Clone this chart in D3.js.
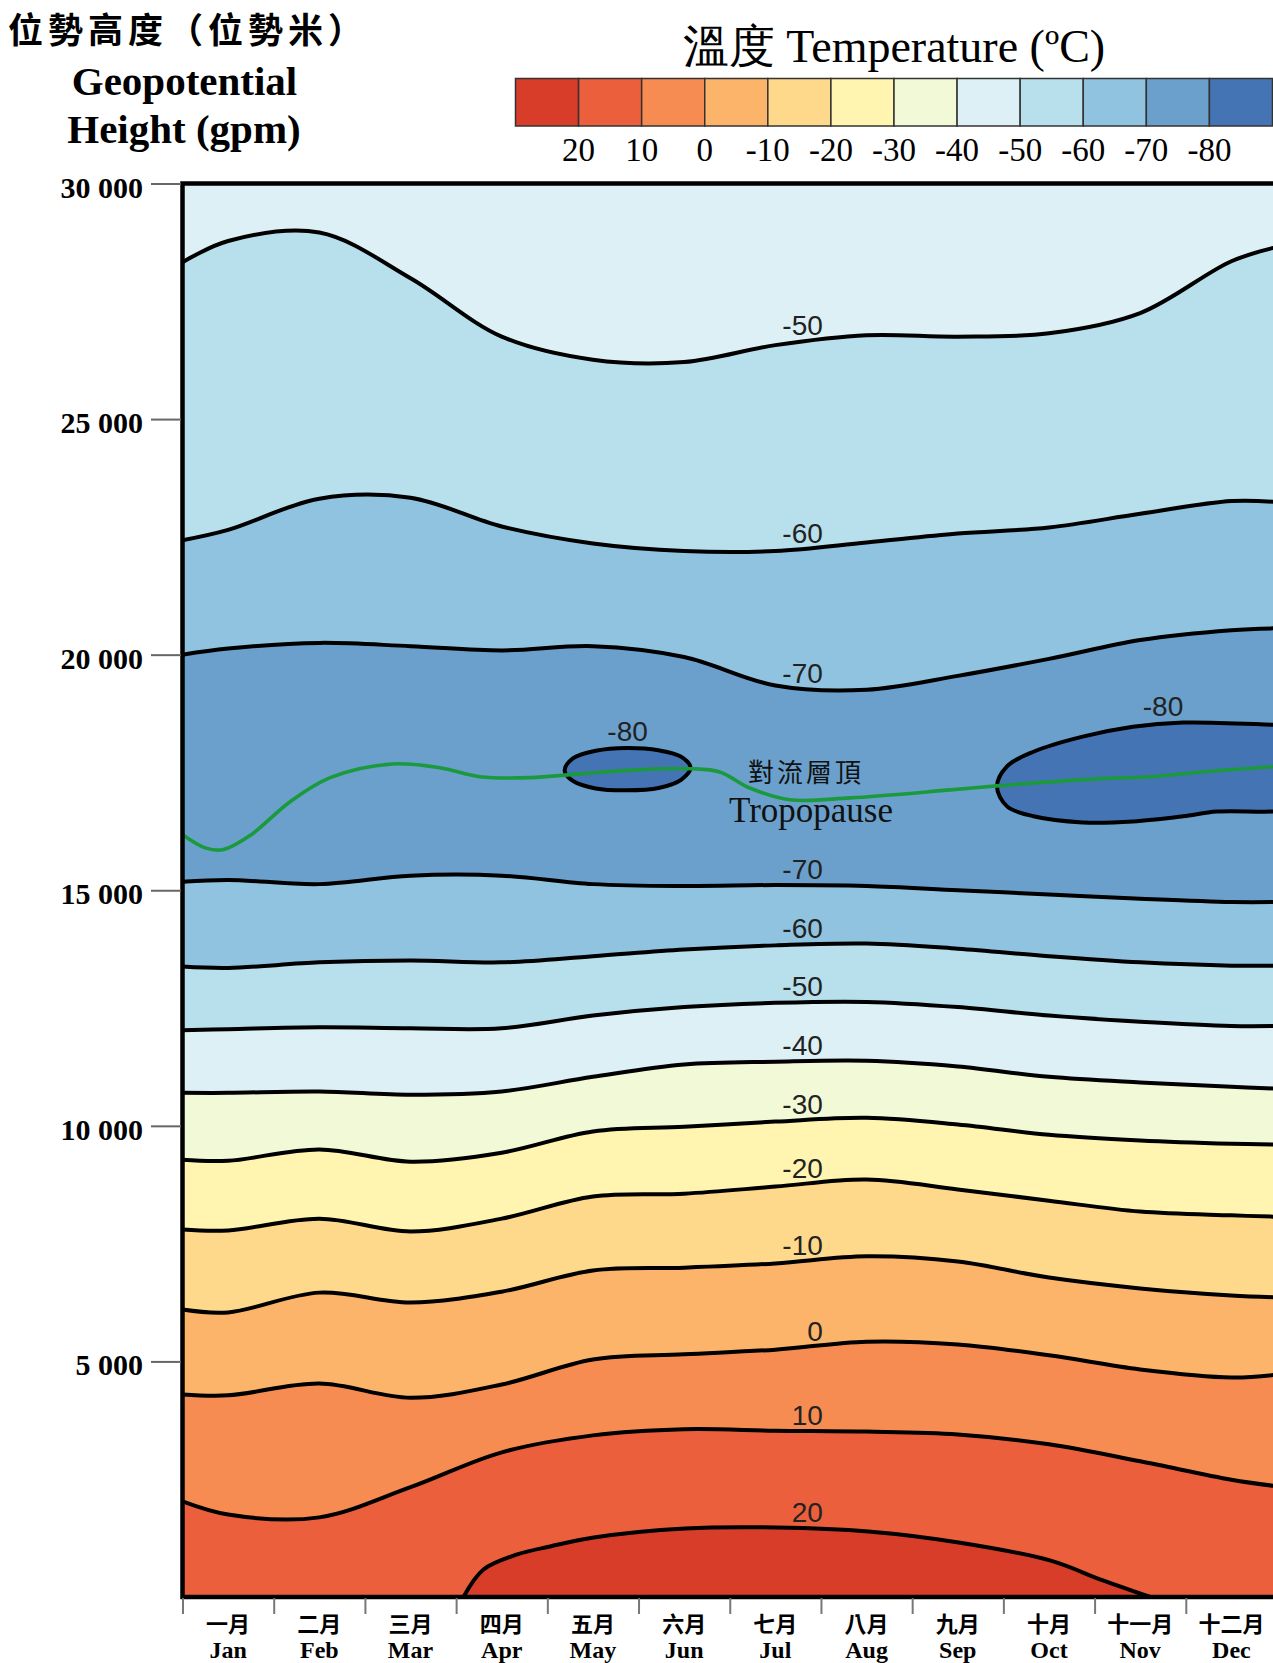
<!DOCTYPE html>
<html><head><meta charset="utf-8">
<script src="https://cdn.jsdelivr.net/npm/d3@7"></script>
<style>
html,body{margin:0;padding:0;background:#fff;}
svg{display:block;}
</style></head><body>
<svg id="chart" width="1273" height="1663"></svg>
<script>
// ---------------- DATA ----------------
const monthsEn = ["Jan","Feb","Mar","Apr","May","Jun","Jul","Aug","Sep","Oct","Nov","Dec"];
const monthsZh = ["一月","二月","三月","四月","五月","六月","七月","八月","九月","十月","十一月","十二月"];
const yTicks = [5000,10000,15000,20000,25000,30000];
const legendValues = [20,10,0,-10,-20,-30,-40,-50,-60,-70,-80];
const legendColors = ["#d73d29","#ec5f3c","#f78c52","#fcb46a","#fed98c","#fff5b0","#f2f9d6","#ddf0f6","#b8dfec","#90c3df","#6aa0cb","#4574b4"];

// sample positions in months (0 = start of Jan, 12 = end of Dec)
const sampleM = [0,0.5,1.5,2.5,3.5,4.5,5.5,6.5,7.5,8.5,9.5,10.5,11.5,12];
// isotherm heights (gpm) at sampleM
const isoM50Upper = [28330,28780,28960,27990,26750,26260,26210,26570,26780,26750,26820,27250,28350,28650];
const isoM60Upper = [22430,22650,23310,23330,22720,22360,22200,22200,22380,22570,22700,22990,23260,23240];
const isoM70Upper = [20000,20130,20250,20180,20090,20180,19950,19345,19255,19550,19910,20310,20520,20560];
const isoM70Lower = [15180,15220,15130,15310,15310,15130,15090,15110,15090,15000,14910,14820,14750,14750];
const isoM60Lower = [13380,13350,13470,13510,13470,13600,13740,13830,13870,13760,13600,13470,13400,13400];
const isoM50Lower = [12030,12050,12090,12070,12070,12340,12520,12610,12630,12520,12340,12210,12120,12120];
const isoM40 = [10700,10700,10730,10660,10730,11040,11300,11360,11380,11260,11040,10920,10830,10790];
const isoM30 = [9280,9260,9500,9240,9430,9880,9980,10090,10170,10030,9810,9690,9620,9600];
const isoM20 = [7800,7780,8030,7760,8030,8500,8560,8710,8860,8650,8410,8180,8100,8070];
const isoM10 = [6100,6040,6460,6250,6480,6930,6990,7080,7230,7120,6780,6550,6400,6360];
const iso0 = [4300,4280,4530,4230,4510,5040,5150,5250,5420,5360,5130,4830,4660,4720];
const iso10 = [2030,1750,1690,2330,3070,3430,3560,3530,3510,3450,3240,2880,2490,2350];
// 20 degC isotherm (closed against the ground)
const iso20M = [3.08,3.30,3.67,4.03,4.51,5.51,6.51,7.52,8.51,9.51,10.09,10.61];
const iso20H = [0,585,904,1073,1264,1455,1476,1392,1158,776,352,0];
// -80 degC closed isotherms
const blob1M = [5.57,5.47,5.22,4.87,4.53,4.28,4.19,4.28,4.53,4.87,5.22,5.47];
const blob1H = [17600,17830,17970,18020,17960,17800,17540,17320,17160,17120,17170,17350];
const blob2M = [8.93,9.04,9.33,9.87,10.42,10.97,11.96,12.6,12.6,11.96,11.34,10.97,10.42,9.87,9.33,9.04];
const blob2H = [17200,17630,17940,18260,18470,18560,18510,18450,16750,16670,16670,16570,16460,16440,16570,16780];
// tropopause
const tropM = [0,0.25,0.44,0.74,1.18,1.62,2.30,2.82,3.26,3.81,4.36,5.02,5.57,5.89,6.22,6.66,7.32,8.42,8.96,10.06,10.61,11.16,12];
const tropH = [16180,15900,15860,16160,16880,17390,17680,17600,17410,17390,17470,17560,17580,17510,17170,16920,16960,17130,17220,17370,17410,17510,17630];

// ---------------- CHART ----------------
const svg = d3.select("#chart");
const serif = "'Liberation Serif','Times New Roman',serif";
const cjk = "'Noto Sans CJK TC','Noto Sans CJK SC',sans-serif";
const sans = "'Liberation Sans',Arial,sans-serif";

const x = d3.scaleLinear().domain([0,12]).range([182.5,1277]);
const y = d3.scaleLinear().domain([0,30000]).range([1597,183.5]);

const defs = svg.append("defs");
defs.append("clipPath").attr("id","plotclip").append("rect")
  .attr("x",x(0)).attr("y",y(30000)).attr("width",x(12)-x(0)).attr("height",y(0)-y(30000));

const plot = svg.append("g").attr("clip-path","url(#plotclip)");
const curve = d3.curveCatmullRom.alpha(0.5);

const pts = (ms,hs) => ms.map((m,i)=>[m,hs[i]]);
const lineGen = d3.line().x(d=>x(d[0])).y(d=>y(d[1])).curve(curve);
const areaBelow = d3.area().x(d=>x(d[0])).y0(y(0)).y1(d=>y(d[1])).curve(curve);
const closedGen = d3.line().x(d=>x(d[0])).y(d=>y(d[1])).curve(d3.curveCatmullRomClosed.alpha(0.5));

// background band (-50..-40)
plot.append("rect").attr("x",x(0)).attr("y",y(30000)).attr("width",x(12)-x(0)).attr("height",y(0)-y(30000))
  .attr("fill",legendColors[7]);

const isotherms = [
  {h:isoM50Upper, label:"-50", below:8},
  {h:isoM60Upper, label:"-60", below:9},
  {h:isoM70Upper, label:"-70", below:10},
  {h:isoM70Lower, label:"-70", below:9},
  {h:isoM60Lower, label:"-60", below:8},
  {h:isoM50Lower, label:"-50", below:7},
  {h:isoM40, label:"-40", below:6},
  {h:isoM30, label:"-30", below:5},
  {h:isoM20, label:"-20", below:4},
  {h:isoM10, label:"-10", below:3},
  {h:iso0, label:"0", below:2},
  {h:iso10, label:"10", below:1}
];
isotherms.forEach(c=>{
  plot.append("path").attr("d",areaBelow(pts(sampleM,c.h))).attr("fill",legendColors[c.below]);
});
plot.append("path").attr("d",areaBelow(pts(iso20M,iso20H))).attr("fill",legendColors[0]);

// -80 cells
[[blob1M,blob1H],[blob2M,blob2H]].forEach(b=>{
  plot.append("path").attr("d",closedGen(pts(b[0],b[1]))).attr("fill",legendColors[11]);
});

// contour strokes
const strokeW = 4;
const linePaths = [];
isotherms.forEach(c=>{
  const p = plot.append("path").attr("d",lineGen(pts(sampleM,c.h))).attr("fill","none")
    .attr("stroke","#000").attr("stroke-width",strokeW).attr("stroke-linejoin","round");
  linePaths.push({node:p.node(), label:c.label});
});
const p20 = plot.append("path").attr("d",lineGen(pts(iso20M,iso20H))).attr("fill","none")
  .attr("stroke","#000").attr("stroke-width",strokeW);
linePaths.push({node:p20.node(), label:"20"});
[[blob1M,blob1H],[blob2M,blob2H]].forEach(b=>{
  plot.append("path").attr("d",closedGen(pts(b[0],b[1]))).attr("fill","none")
    .attr("stroke","#000").attr("stroke-width",strokeW);
});

// tropopause
plot.append("path").attr("d",lineGen(pts(tropM,tropH))).attr("fill","none")
  .attr("stroke","#1a9a3c").attr("stroke-width",3.6);

// contour labels
function yAtX(node, xt){
  let lo=0, hi=node.getTotalLength();
  for(let i=0;i<40;i++){const mid=(lo+hi)/2; const p=node.getPointAtLength(mid); if(p.x<xt) lo=mid; else hi=mid;}
  return node.getPointAtLength((lo+hi)/2).y;
}
const labelEnd = x(7.02);
linePaths.forEach(lp=>{
  const yy = yAtX(lp.node, labelEnd-20);
  svg.append("text").attr("x",labelEnd).attr("y",yy-6).attr("text-anchor","end")
    .attr("font-family",sans).attr("font-size",28).attr("fill","#222").text(lp.label);
});
[[blob1M,blob1H],[blob2M,blob2H]].forEach((b,i)=>{
  const cx = i===0 ? x(d3.mean([d3.min(b[0]),d3.max(b[0])])) : x(10.75);
  svg.append("text").attr("x",cx).attr("y",y(d3.max(b[1]))-7).attr("text-anchor","middle")
    .attr("font-family",sans).attr("font-size",28).attr("fill","#222").text("-80");
});

// tropopause labels
svg.append("text").attr("x",806).attr("y",782).attr("text-anchor","middle")
  .attr("font-family",cjk).attr("font-size",26).attr("letter-spacing",3).attr("fill","#111").text("對流層頂");
svg.append("text").attr("x",811).attr("y",822).attr("text-anchor","middle")
  .attr("font-family",serif).attr("font-size",35).attr("fill","#111").text("Tropopause");

// frame
svg.append("rect").attr("x",x(0)).attr("y",y(30000)).attr("width",x(12)-x(0)).attr("height",y(0)-y(30000))
  .attr("fill","none").attr("stroke","#000").attr("stroke-width",4.5);

// y axis
const yAxis = d3.axisLeft(y).tickValues(yTicks).tickSize(30).tickPadding(8)
  .tickFormat(v=>d3.format(",")(v).replace(/,/g," "));
const ya = svg.append("g").attr("transform",`translate(${x(0)-1.5},0)`).call(yAxis);
ya.select(".domain").remove();
ya.selectAll(".tick line").attr("stroke","#666").attr("stroke-width",2);
ya.selectAll(".tick text").attr("font-family",serif).attr("font-weight","bold").attr("font-size",30)
  .attr("fill","#000").attr("dy","0.45em");

// x axis ticks
const xAxis = d3.axisBottom(x).tickValues(d3.range(0,13)).tickSize(16).tickFormat("");
const xa = svg.append("g").attr("transform",`translate(0,${y(0)+1})`).call(xAxis);
xa.select(".domain").remove();
xa.selectAll(".tick line").attr("stroke","#777").attr("stroke-width",2);
// month labels
const mg = svg.append("g");
monthsZh.forEach((t,i)=>{
  mg.append("text").attr("x",x(i+0.5)).attr("y",1632).attr("text-anchor","middle")
    .attr("font-family",cjk).attr("font-weight","bold").attr("font-size",22).attr("fill","#000").text(t);
  mg.append("text").attr("x",x(i+0.5)).attr("y",1658).attr("text-anchor","middle")
    .attr("font-family",serif).attr("font-weight","bold").attr("font-size",24).attr("fill","#000").text(monthsEn[i]);
});

// y title
svg.append("text").attr("x",188).attr("y",43).attr("text-anchor","middle")
  .attr("font-family",cjk).attr("font-weight","bold").attr("font-size",35).attr("letter-spacing",5)
  .attr("fill","#000").text("位勢高度（位勢米）");
svg.append("text").attr("x",184.5).attr("y",95).attr("text-anchor","middle")
  .attr("font-family",serif).attr("font-weight","bold").attr("font-size",41).attr("fill","#000").text("Geopotential");
svg.append("text").attr("x",184).attr("y",143).attr("text-anchor","middle")
  .attr("font-family",serif).attr("font-weight","bold").attr("font-size",41).attr("fill","#000").text("Height (gpm)");

// legend
const lx = d3.scaleBand().domain(d3.range(legendColors.length)).range([515.5,1272.5]);
const lg = svg.append("g");
lg.selectAll("rect.box").data(legendColors).join("rect").attr("class","box")
  .attr("x",(d,i)=>lx(i)).attr("y",78.5).attr("width",lx.bandwidth()).attr("height",47.5)
  .attr("fill",d=>d).attr("stroke","#333").attr("stroke-width",1.5);
lg.selectAll("text.lv").data(legendValues).join("text").attr("class","lv")
  .attr("x",(d,i)=>lx(i)+lx.bandwidth()).attr("y",161).attr("text-anchor","middle")
  .attr("font-family",serif).attr("font-size",33).attr("fill","#000").text(d=>d);
svg.append("text").attr("x",894).attr("y",62).attr("text-anchor","middle")
  .attr("font-family",serif).attr("font-size",46).attr("fill","#000")
  .text("溫度 Temperature (ºC)");
</script>
</body></html>
